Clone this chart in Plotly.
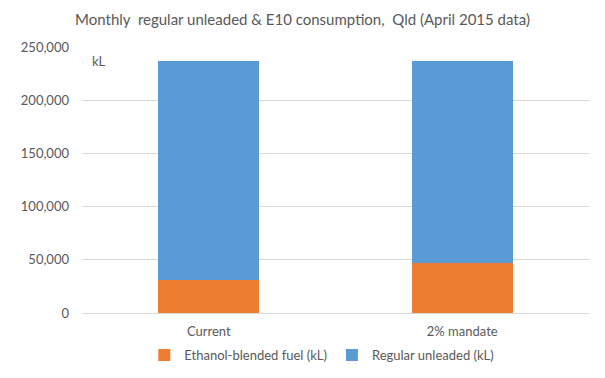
import plotly.graph_objects as go

categories = ["Current", "2% mandate"]
ethanol_blended = [31300, 47000]
regular_unleaded = [205200, 189500]
series_names = ["Ethanol-blended fuel (kL)", "Regular unleaded (kL)"]
title_text = "Monthly  regular unleaded & E10 consumption,  Qld (April 2015 data)"

font_family = "Lato, Carlito, Calibri, sans-serif"
text_color = "#595959"

fig = go.Figure()
fig.add_trace(go.Bar(x=categories, y=ethanol_blended, name=series_names[0],
                     marker=dict(color="#ED7D31", line=dict(width=0))))
fig.add_trace(go.Bar(x=categories, y=regular_unleaded, name=series_names[1],
                     marker=dict(color="#5B9BD5", line=dict(width=0))))

fig.update_layout(
    barmode="stack",
    bargap=0.6,
    width=605, height=378,
    margin=dict(l=82, r=16, t=47, b=65, autoexpand=False),
    paper_bgcolor="white", plot_bgcolor="white",
    font=dict(family=font_family, color=text_color, size=13),
    title=dict(text=title_text, x=0.5, xanchor="center", y=1 - 20 / 378, yanchor="middle",
               font=dict(size=15, color=text_color, family=font_family)),
    legend=dict(orientation="h", x=0.473, xanchor="center", y=-0.158, yanchor="middle",
                font=dict(size=13, color=text_color), traceorder="normal",
                itemwidth=30, tracegroupgap=0),
    showlegend=True,
    hovermode=False,
)
fig.update_yaxes(range=[0, 250000], dtick=50000, tickformat=",", showgrid=True,
                 gridcolor="#D9D9D9", gridwidth=1, zeroline=True, zerolinecolor="#D9D9D9",
                 zerolinewidth=1, showline=False, ticks="", ticklabelstandoff=12,
                 automargin=False, tickfont=dict(size=13, color=text_color))
fig.update_xaxes(showline=False, ticks="", tickfont=dict(size=13, color=text_color),
                 automargin=False, ticklabelstandoff=9)
fig.add_annotation(text="kL", xref="paper", yref="paper", x=0.016, y=0.947,
                   xanchor="left", yanchor="middle", showarrow=False,
                   font=dict(size=13, color=text_color))

fig.write_html("out.html", config={"displayModeBar": False},
               post_script="document.body.style.margin='0';document.body.style.overflow='hidden';")
